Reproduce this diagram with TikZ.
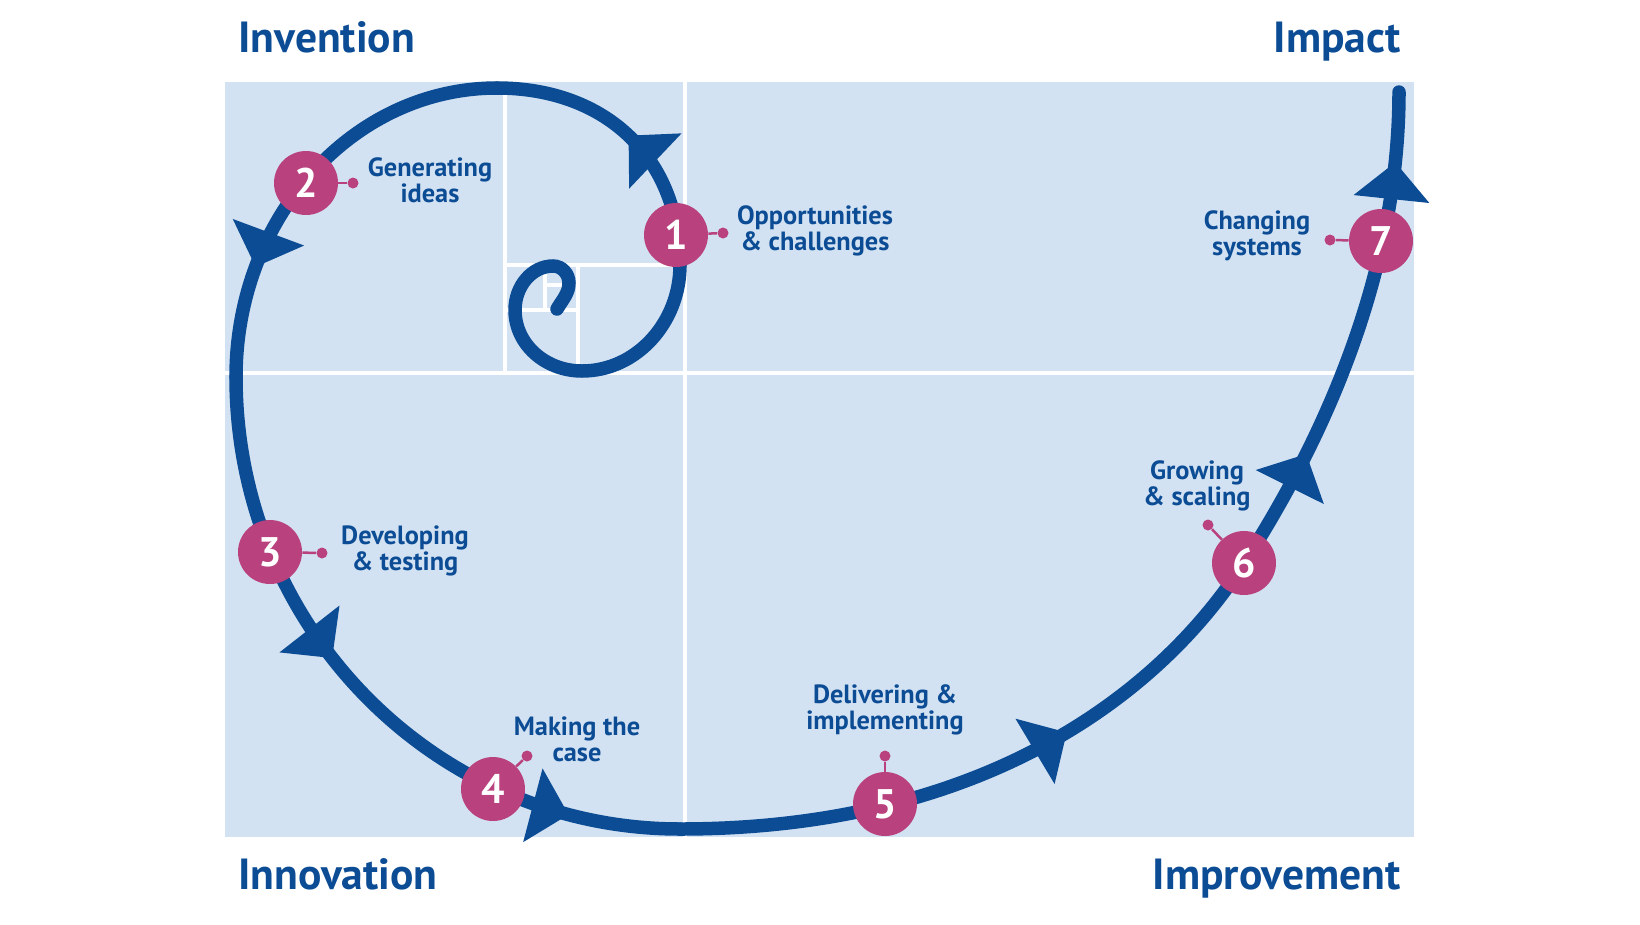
\documentclass[tikz,border=0pt]{standalone}
\usepackage{fontspec}
\setmainfont{PT Sans}
\usetikzlibrary{arrows.meta, decorations.markings}
\definecolor{spiralblue}{HTML}{0B4C95}
\definecolor{stagepink}{HTML}{B9417D}
\definecolor{panelblue}{HTML}{D3E2F2}

\begin{document}
\begin{tikzpicture}[x=0.02cm, y=-0.02cm,
  spiral/.style={draw=spiralblue, line width=0.27cm, line cap=round},
  tipat/.style={postaction={decorate, decoration={markings, mark=at position #1 with {\arrow{Triangle[width=1.48cm, length=0.74cm]}}}}},
  stage/.style={circle, fill=stagepink, minimum size=1.28cm, inner sep=0pt, text=white, font=\bfseries\fontsize{23.5}{23.5}\selectfont},
  tagdot/.style={circle, fill=stagepink, minimum size=0.22cm, inner sep=0pt},
  leader/.style={draw=stagepink, line width=0.05cm},
  lbl/.style={align=center, text=spiralblue, font=\bfseries\fontsize{15}{14.8}\selectfont, inner sep=0pt},
  heading/.style={text=spiralblue, font=\bfseries\fontsize{24.8}{28}\selectfont, inner sep=0pt},
  gridline/.style={draw=white, line width=0.075cm}]
\useasboundingbox (0,0) rectangle (1640,924);

% panel and golden grid
\fill[panelblue] (225,82) rectangle (1414,837);
\foreach \xa/\ya/\xb/\yb in {685/82/685/837, 225/373/1414/373, 505/82/505/373,
    505/265/685/265, 578/265/578/373, 505/310/578/310, 545/265/545/310, 545/285/578/285}
  \draw[gridline] (\xa,\ya) -- (\xb,\yb);

% spiral points
\coordinate (q0) at (557,309);
\coordinate (q1) at (569,283);
\coordinate (q2) at (553,266);
\coordinate (q3) at (515,310);
\coordinate (q4) at (582,371);
\coordinate (q5) at (680,265);
\coordinate (q6) at (497,88);
\coordinate (q7) at (236,377);
\coordinate (q8) at (680,829);
\coordinate (q9) at (1244,563);
\coordinate (q10) at (1399,92);

\draw[spiral] (q0) .. controls +(6,-10) and +(0,10) .. (q1)
  .. controls +(0,-9) and +(9,0) .. (q2)
  .. controls +(-21,0) and +(0,-24) .. (q3)
  .. controls +(0,34) and +(-37,0) .. (q4)
  .. controls +(54,0) and +(0,58) .. (q5);
\draw[spiral, tipat=.5] (q5) .. controls +(0,-106) and +(110,0) .. (q6);
\draw[spiral, tipat=.74] (q6) .. controls +(-144,0) and +(0,-160) .. (q7);
\draw[spiral, tipat=.43, tipat=.84] (q7) .. controls +(0,250) and +(-245,0) .. (q8);
\draw[spiral, tipat=.62] (q8) .. controls +(300,0) and +(-86,134) .. (q9);
\draw[spiral, tipat=.25, tipat=.86] (q9) .. controls +(103,-160) and +(0,150) .. (q10);

% stages
\node[stage] (n1) at (676,235) {1};
\node[stage] (n2) at (306,183) {2};
\node[stage] (n3) at (270,552) {3};
\node[stage] (n4) at (493,789) {4};
\node[stage] (n5) at (885,804) {5};
\node[stage] (n6) at (1244,563) {6};
\node[stage] (n7) at (1381,241) {7};

\node[tagdot] (d1) at (723,233) {};
\node[tagdot] (d2) at (353,183) {};
\node[tagdot] (d3) at (322,553) {};
\node[tagdot] (d4) at (527,756) {};
\node[tagdot] (d5) at (885,756) {};
\node[tagdot] (d6) at (1208,525) {};
\node[tagdot] (d7) at (1330,240) {};
\foreach \i in {1,...,7}
  \draw[leader] (n\i) -- (d\i);

\node[lbl] (l1) at (815,231) {Opportunities\\\& challenges};
\node[lbl] (l2) at (430,180) {Generating\\ideas};
\node[lbl] (l3) at (405,551) {Developing\\\& testing};
\node[lbl] (l4) at (577,739) {Making the\\case};
\node[lbl] (l5) at (885,710) {Delivering \&\\implementing};
\node[lbl] (l6) at (1197,486) {Growing\\\& scaling};
\node[lbl] (l7) at (1257,236) {Changing\\systems};

% corner headings
\node[heading, anchor=base west] (inv) at (238,52) {Invention};
\node[heading, anchor=base east] (imp) at (1401,52) {Impact};
\node[heading, anchor=base west] (inno) at (238,889) {Innovation};
\node[heading, anchor=base east] (impr) at (1401,889) {Improvement};
\end{tikzpicture}
\end{document}
